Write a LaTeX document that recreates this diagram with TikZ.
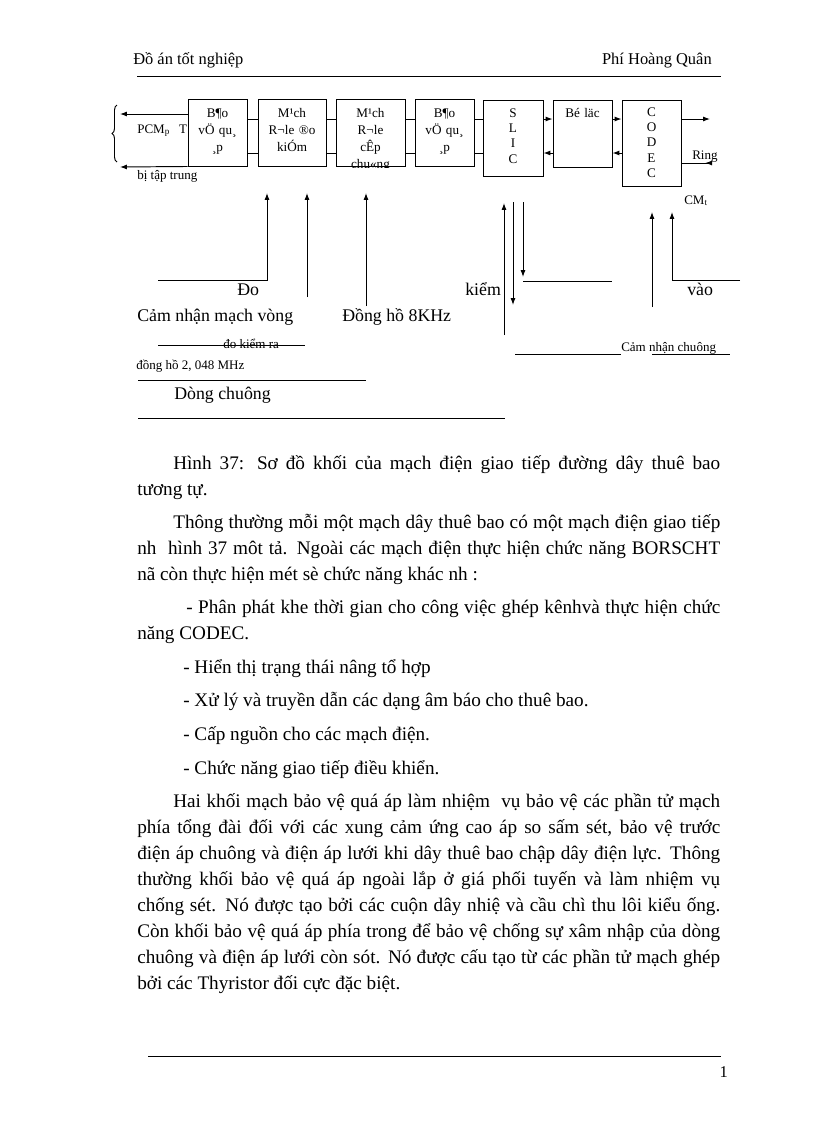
\documentclass[tikz,border=0pt]{standalone}
\usepackage{fontspec}
\setmainfont{Liberation Serif}
\usetikzlibrary{arrows.meta, decorations.pathreplacing}

\newlength{\px}
\setlength{\px}{0.7295pt}
\newcommand{\bodyfont}{\fontsize{14}{17}\selectfont}
\newcommand{\headfont}{\fontsize{12}{14}\selectfont}
\newcommand{\blkfont}{\fontsize{9.6}{12.4}\selectfont}
\newcommand{\lblfont}{\fontsize{13}{15}\selectfont}
\newcommand{\smlfont}{\fontsize{9.5}{11}\selectfont}
% justified line of a given width (in px)
\newcommand{\jl}[2]{\makebox[#1\px][s]{#2}}

\begin{document}
\begin{tikzpicture}[
    x=\px, y=-\px,
    blk/.style={
        draw,
        line width=0.7pt,
        inner sep=0pt,
        align=center,
        anchor=base,
        font=\blkfont
    },
    txt/.style={anchor=base west, inner sep=0pt, font=\bodyfont},
    lbl/.style={anchor=base west, inner sep=0pt, font=\lblfont},
    sml/.style={anchor=base west, inner sep=0pt, font=\smlfont},
    wire/.style={line width=0.7pt},
    arr/.style={
        -{Latex[length=5pt, width=3.6pt]},
        line width=0.7pt
    }
]
\useasboundingbox (0,0) rectangle (816,1123);

% header
\node[anchor=base west, inner sep=0pt, font=\headfont] (hdl) at (133,64) {Đồ án tốt nghiệp};
\node[anchor=base east, inner sep=0pt, font=\headfont] (hdr) at (712,64) {Phí Hoàng Quân};
\coordinate (hl1) at (137,76);
\coordinate (hl2) at (721,76);
\draw[line width=0.6pt] (hl1) -- (hl2);

% blocks
\node[blk, text width=59\px, text height=18\px, text depth=49\px] (prot1) at (217.5,117) {B¶o\\vÖ qu¸\\¸p};
\node[blk, text width=68\px, text height=18\px, text depth=49\px] (rly1) at (292,117) {M¹ch\\R¬le ®o\\kiÓm};
\begin{scope}
\clip (330,95) rectangle (410,167.5);
\node[blk, text width=69\px, text height=18\px, text depth=49\px] (rly2) at (370.5,117) {M¹ch\\R¬le\\cÊp\\chu«ng};
\end{scope}
\node[blk, text width=59\px, text height=18\px, text depth=49\px] (prot2) at (444.5,117) {B¶o\\vÖ qu¸\\¸p};
\node[blk, text width=60\px, text height=17\px, text depth=59\px, font=\fontsize{9.6}{11.3}\selectfont] (slic) at (513,117) {S\\L\\I\\C};
\node[blk, text width=59\px, text height=17\px, text depth=50\px] (filt) at (582.5,117) {Bé läc};
\node[blk, text width=59\px, text height=16\px, text depth=70\px, font=\fontsize{9.6}{11.3}\selectfont] (codec) at (651.5,116) {C\\O\\D\\E\\C};

\coordinate (up) at (0,119);
\coordinate (dn) at (0,153);

\draw[wire] (prot1.east |- up) -- (rly1.west |- up);
\draw[wire] (prot1.east |- dn) -- (rly1.west |- dn);
\draw[wire] (rly1.east |- up) -- (rly2.west |- up);
\draw[wire] (rly1.east |- dn) -- (rly2.west |- dn);
\draw[wire] (rly2.east |- up) -- (prot2.west |- up);
\draw[wire] (rly2.east |- dn) -- (prot2.west |- dn);
\draw[wire] (prot2.east |- up) -- (slic.west |- up);
\draw[wire] (prot2.east |- dn) -- (slic.west |- dn);
\draw[arr] (slic.east |- up) -- (filt.west |- up);
\draw[arr] (filt.west |- dn) -- (slic.east |- dn);
\draw[arr] (filt.east |- up) -- (codec.west |- up);
\draw[arr] (codec.west |- dn) -- (filt.east |- dn);

% left side
\coordinate (pcmup) at (120,114);
\coordinate (pcmdn) at (120,167);
\draw[arr] (prot1.west |- pcmup) -- (pcmup);
\draw[arr] (prot1.south west) -- (pcmdn);
\draw[wire, decorate, decoration={brace, amplitude=5\px}] (117,162) -- (117,105);
\node[sml] (pcm) at (137,133) {PCM\textsubscript{p}\hspace{9\px}T};
\node[sml] (tt) at (137,179) {bị tập trung};

% right side
\coordinate (outup) at (710,119);
\coordinate (ringend) at (712,163);
\draw[arr] (codec.east |- up) -- (outup);
\draw[wire, -{Latex[reversed, length=5pt, width=3.6pt]}] (codec.east |- ringend) -- (ringend);
\node[sml] (ring) at (692,159) {Ring};
\node[sml] (cmt) at (684,204) {CM\textsubscript{t}};

% control lines below
\coordinate (k1a) at (158,280);
\coordinate (k1b) at (267,280);
\coordinate (k1c) at (267,193);
\coordinate (k2a) at (307,297);
\coordinate (k2b) at (307,193);
\coordinate (k3a) at (366,306);
\coordinate (k3b) at (366,193);
\draw[arr] (k1a) -- (k1b) -- (k1c);
\draw[arr] (k2a) -- (k2b);
\draw[arr] (k3a) -- (k3b);

\coordinate (s1a) at (504,335);
\coordinate (s1b) at (504,203);
\coordinate (s2a) at (513,202);
\coordinate (s2b) at (513,305);
\coordinate (s3a) at (523,202);
\coordinate (s3b) at (523,277);
\coordinate (s3c) at (523,281);
\coordinate (s3d) at (612,281);
\draw[arr] (s1a) -- (s1b);
\draw[arr] (s2a) -- (s2b);
\draw[arr] (s3a) -- (s3b);
\draw[wire] (s3c) -- (s3d);

\coordinate (c1a) at (652,307);
\coordinate (c1b) at (652,212);
\coordinate (c2a) at (740,280);
\coordinate (c2b) at (672,280);
\coordinate (c2c) at (672,212);
\draw[arr] (c1a) -- (c1b);
\draw[arr] (c2a) -- (c2b) -- (c2c);

\node[lbl] (do) at (237,295) {Đo};
\node[lbl] (kiem) at (465,295) {kiểm};
\node[lbl] (vao) at (687,295) {vào};
\node[lbl] (camv) at (137,321) {Cảm nhận mạch vòng};
\node[lbl] (dh8) at (342,321) {Đồng hồ 8KHz};
\coordinate (u1a) at (158,345);
\coordinate (u1b) at (305,345);
\draw[wire] (u1a) -- (u1b);
\node[sml] (dokr) at (223,348) {đo kiểm  ra};
\node[sml] (dh2) at (136,369) {đồng hồ 2, 048  MHz};
\coordinate (u2a) at (138,380);
\coordinate (u2b) at (366,380);
\draw[wire] (u2a) -- (u2b);
\node[lbl] (dchg) at (174,399) {Dòng chuông};
\coordinate (u3a) at (138,418);
\coordinate (u3b) at (505,418);
\draw[wire] (u3a) -- (u3b);
\coordinate (u4a) at (515,354);
\coordinate (u4b) at (621,354);
\coordinate (u5a) at (652,354);
\coordinate (u5b) at (730,354);
\draw[wire] (u4a) -- (u4b);
\draw[wire] (u5a) -- (u5b);
\node[sml] (camc) at (621,351) {Cảm  nhận chuông};

% caption and body text
\node[txt] (cap1) at (173,469) {\jl{547}{Hình 37: Sơ đồ khối của mạch điện giao tiếp đường dây thuê bao}};
\node[txt] (cap2) at (137,495) {tương tự.};

\node[txt] (pa1) at (173,528) {\jl{547}{Thông thường mỗi một mạch dây thuê bao có một mạch điện giao tiếp}};
\node[txt] (pa2) at (137,554) {\jl{583}{nh \ hình 37 môt tả. Ngoài các mạch điện thực hiện chức năng BORSCHT}};
\node[txt] (pa3) at (137,580) {nã còn thực hiện mét sè chức năng khác nh :};

\node[txt] (it1) at (186,613) {\jl{534}{- Phân phát khe thời gian cho công việc ghép kênhvà thực hiện chức}};
\node[txt] (it1b) at (137,639) {năng CODEC.};
\node[txt] (it2) at (183,673) {- Hiển thị trạng thái nâng tổ hợp};
\node[txt] (it3) at (183,706) {- Xử lý và truyền dẫn các dạng âm báo cho thuê bao.};
\node[txt] (it4) at (183,740) {- Cấp nguồn cho các mạch điện.};
\node[txt] (it5) at (183,774) {- Chức năng giao tiếp điều khiển.};

\node[txt] (pb1) at (173,807) {\jl{547}{Hai khối mạch bảo vệ quá áp làm nhiệm \ vụ bảo vệ các phần tử mạch}};
\node[txt] (pb2) at (137,833) {\jl{583}{phía tổng đài đối với các xung cảm ứng cao áp so sấm sét, bảo vệ trước}};
\node[txt] (pb3) at (137,859) {\jl{583}{điện áp chuông và điện áp lưới khi dây thuê bao chập dây điện lực. Thông}};
\node[txt] (pb4) at (137,885) {\jl{583}{thường khối bảo vệ quá áp ngoài lắp ở giá phối tuyến và làm nhiệm vụ}};
\node[txt] (pb5) at (137,911) {\jl{583}{chống sét. Nó được tạo bởi các cuộn dây nhiệ và cầu chì thu lôi kiểu ống.}};
\node[txt] (pb6) at (137,937) {\jl{583}{Còn khối bảo vệ quá áp phía trong để bảo vệ chống sự xâm nhập của dòng}};
\node[txt] (pb7) at (137,963) {\jl{583}{chuông và điện áp lưới còn sót. Nó được cấu tạo từ các phần tử mạch ghép}};
\node[txt] (pb8) at (137,989) {bởi các Thyristor đối cực đặc biệt.};

% footer
\coordinate (fl1) at (148,1056);
\coordinate (fl2) at (721,1056);
\draw[line width=0.6pt] (fl1) -- (fl2);
\node[anchor=base east, inner sep=0pt, font=\headfont] (pgno) at (728,1077) {1};
\end{tikzpicture}
\end{document}
